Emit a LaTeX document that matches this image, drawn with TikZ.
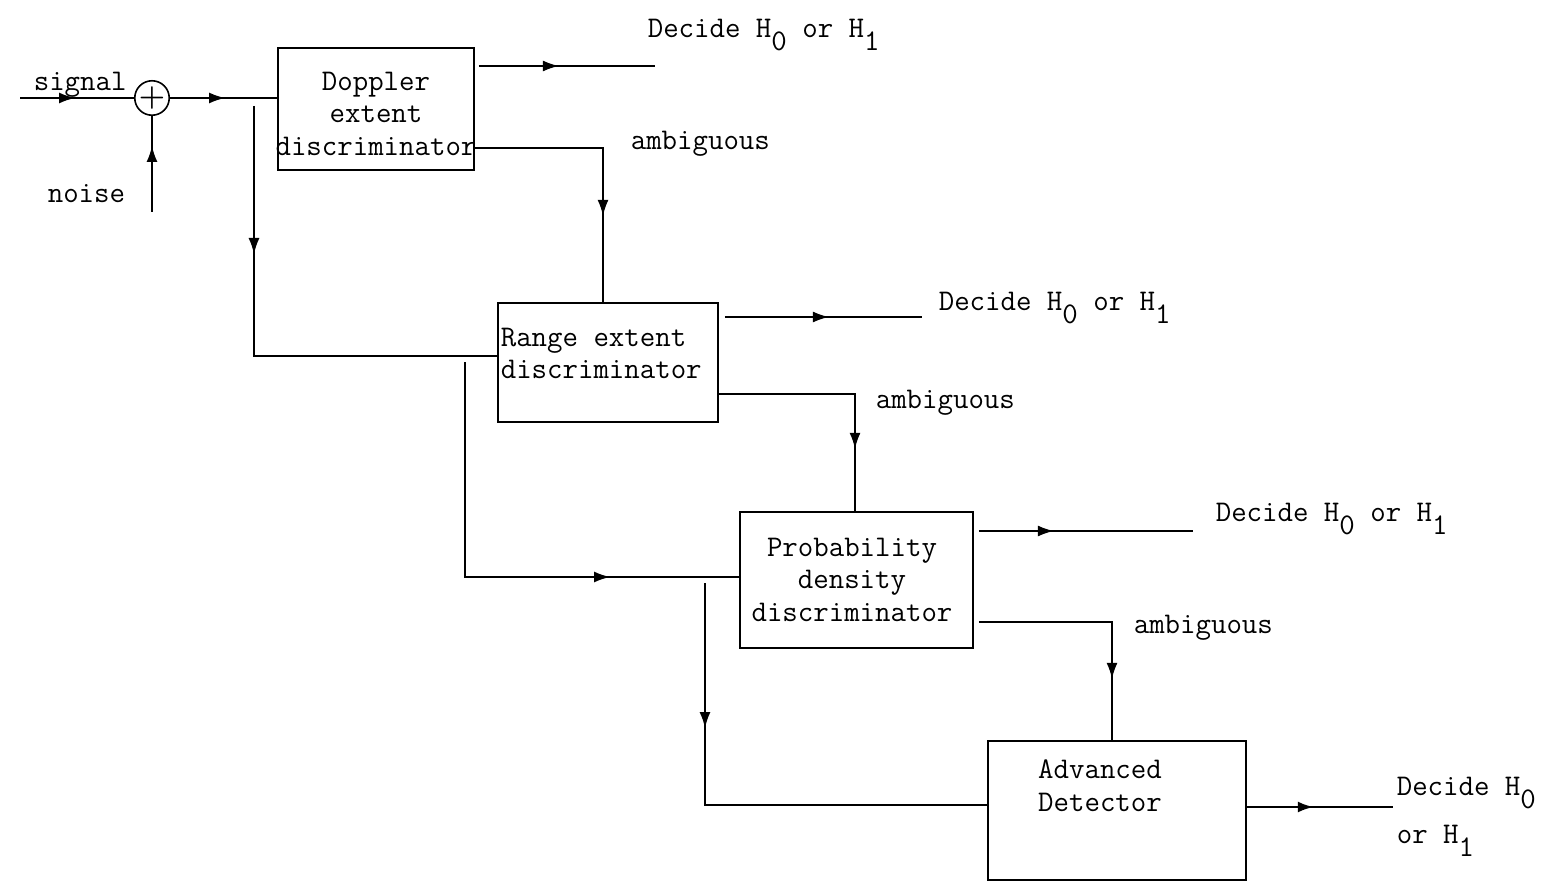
\documentclass[tikz,border=0pt]{standalone}
\usetikzlibrary{decorations.markings,arrows.meta,calc}
\newcommand\sbs[1]{\raisebox{-13pt}{#1}}
\begin{document}
\begin{tikzpicture}[x=1pt,y=-1pt,line width=1.6pt,
  font=\fontsize{30}{32.5}\selectfont\ttfamily,
  box/.style={draw,inner sep=0pt},
  lbl/.style={inner sep=0pt,align=center},
  arr/.style={postaction={decorate},decoration={markings,
     mark=at position #1 with {\arrow{Latex[length=16pt,width=11pt]}}}}]
\useasboundingbox (0,0) rectangle (1549,882);

% boxes
\node[box,minimum width=196pt,minimum height=122pt] (dop) at (376,109) {};
\node[box,minimum width=220pt,minimum height=119pt] (rng) at (608,362.5) {};
\node[box,minimum width=233pt,minimum height=136pt] (pdd) at (856.5,580) {};
\node[box,minimum width=258pt,minimum height=139pt] (adv) at (1117,810.5) {};
\node[draw,circle,minimum size=34pt,inner sep=0pt,font=\fontsize{30}{30}\selectfont\bfseries] (sum) at (152,98) {+};

% box texts
\node[lbl,anchor=north] (tdop) at (376,71) {Doppler\\extent\\discriminator};
\node[lbl,anchor=north west,align=left] (trng) at (500,327) {Range extent\\discriminator};
\node[lbl,anchor=north] (tpdd) at (852,537) {Probability\\density\\discriminator};
\node[lbl,anchor=north] (tadv) at (1100,759) {Advanced\\Detector};

% inputs
\coordinate (sigin) at (20,98);
\coordinate (noisein) at (152,212);
\node[lbl,anchor=base west] (tsig) at (33,91) {signal};
\node[lbl,anchor=base west] (tnoise) at (47,203) {noise};
\draw[arr=55pt] (sigin) -- (sum.west);
\draw[arr=66pt] (noisein) -- (sum.south);
\draw[arr=55pt] (sum.east) -- (sum.east -| dop.west);

% branches
\coordinate (b1) at (254,106);
\draw[arr=148pt] (b1) |- ([yshift=6.5pt]rng.west);
\coordinate (b2) at (465,362);
\draw[arr=360pt] (b2) |- ([yshift=3pt]pdd.west);
\coordinate (b3) at (705,583);
\draw[arr=145pt] (b3) |- ([yshift=5.5pt]adv.west);

% decisions
\coordinate (d1) at (655,66);
\coordinate (d2) at (922,317);
\coordinate (d3) at (1193,531);
\coordinate (d4) at (1393,807);
\draw[arr=80pt] ([xshift=4pt,yshift=43pt]dop.east) -- (d1);
\draw[arr=104pt] ([xshift=6pt,yshift=45.5pt]rng.east) -- (d2);
\draw[arr=75pt] ([xshift=5pt,yshift=49pt]pdd.east) -- (d3);
\draw[arr=67pt,line width=2.6pt] ([yshift=3.5pt]adv.east) -- (d4);
\node[lbl,anchor=base west] (td1) at (647,38) {Decide H\sbs{0} or H\sbs{1}};
\node[lbl,anchor=base west] (td2) at (938,311) {Decide H\sbs{0} or H\sbs{1}};
\node[lbl,anchor=base west] (td3) at (1215,521) {Decide H\sbs{0} or H\sbs{1}};
\node[lbl,anchor=base west] (td4) at (1396,795) {Decide H\sbs{0}};
\node[lbl,anchor=base west] (td5) at (1396,843) {or H\sbs{1}};

% ambiguous paths
\draw[arr=196pt] ([yshift=-39pt]dop.east) -| ([xshift=-5pt]rng.north);
\draw[arr=191pt] ([yshift=-31.5pt]rng.east) -| ([xshift=-1.5pt]pdd.north);
\draw[arr=190pt] ([xshift=5pt,yshift=-42pt]pdd.east) -| ([xshift=-5pt]adv.north);
\node[lbl,anchor=base west] (ta1) at (630,150) {ambiguous};
\node[lbl,anchor=base west] (ta2) at (875,408) {ambiguous};
\node[lbl,anchor=base west] (ta3) at (1133,633) {ambiguous};
\end{tikzpicture}
\end{document}
